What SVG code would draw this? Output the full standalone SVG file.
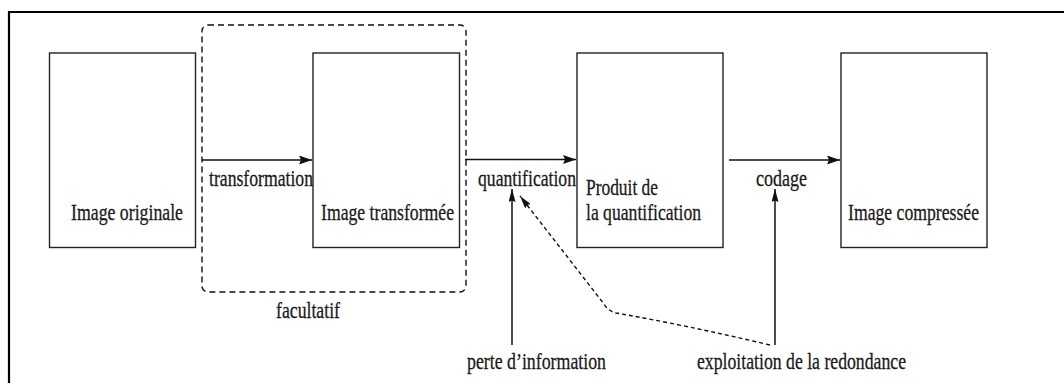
<svg xmlns="http://www.w3.org/2000/svg" width="1064" height="383" viewBox="0 0 1064 383">
  <style>
    .box { fill: #fff; stroke: #222; stroke-width: 1.4; }
    .lbl { font-family: 'Liberation Serif', 'DejaVu Serif', serif; font-size: 24px; fill: #1a1a1a; stroke: #1a1a1a; stroke-width: 0.3; }
    .edge { fill: none; stroke: #111; stroke-width: 1.5; }
    .dash { fill: none; stroke: #111; stroke-width: 1.4; stroke-dasharray: 4 3; }
    .group { fill: none; stroke: #111; stroke-width: 1.4; stroke-dasharray: 6 4; }
    .frame { fill: none; stroke: #000; stroke-width: 2.2; }
  </style>
  <defs>
    <marker id="head" viewBox="0 0 13 9" refX="13" refY="4.5" markerWidth="13" markerHeight="9" markerUnits="userSpaceOnUse" orient="auto">
      <path d="M0,0 L13,4.5 L0,9 L2,4.5 Z" fill="#111"/>
    </marker>
    <marker id="headS" viewBox="0 0 13 7" refX="13" refY="3.5" markerWidth="13" markerHeight="7" markerUnits="userSpaceOnUse" orient="auto">
      <path d="M0,0 L13,3.5 L0,7 L1.5,3.5 Z" fill="#111"/>
    </marker>
  </defs>

  <rect width="1064" height="383" fill="#fff"/>

  <!-- outer frame (top and left edges) -->
  <path class="frame" d="M9,383 L9,12 L1064,12"/>

  <!-- optional stage outline -->
  <g id="facultatif">
    <rect class="group" x="202" y="25" width="264" height="267" rx="6" ry="6"/>
    <text class="lbl" x="276" y="318" textLength="64" lengthAdjust="spacingAndGlyphs">facultatif</text>
  </g>

  <g id="image-originale">
    <rect class="box" x="49.5" y="53" width="146" height="194.5"/>
    <text class="lbl" x="71" y="220" textLength="112" lengthAdjust="spacingAndGlyphs">Image originale</text>
  </g>

  <g id="image-transformee">
    <rect class="box" x="313" y="53" width="146.5" height="194.5"/>
    <text class="lbl" x="321" y="220" textLength="133" lengthAdjust="spacingAndGlyphs">Image transformée</text>
  </g>

  <g id="produit-quantification">
    <rect class="box" x="577" y="53" width="146" height="194.5"/>
    <text class="lbl" x="586" y="195" textLength="72" lengthAdjust="spacingAndGlyphs">Produit de</text>
    <text class="lbl" x="586" y="220" textLength="115" lengthAdjust="spacingAndGlyphs">la quantification</text>
  </g>

  <g id="image-compressee">
    <rect class="box" x="841" y="53" width="146" height="194.5"/>
    <text class="lbl" x="848" y="220" textLength="131" lengthAdjust="spacingAndGlyphs">Image compressée</text>
  </g>

  <g id="perte-information">
    <text class="lbl" x="467" y="369" textLength="139" lengthAdjust="spacingAndGlyphs">perte d’information</text>
  </g>

  <g id="exploitation-redondance">
    <text class="lbl" x="697" y="369" textLength="209" lengthAdjust="spacingAndGlyphs">exploitation de la redondance</text>
  </g>

  <!-- connectors -->
  <g id="connectors">
    <path class="edge" d="M202,160 L312,160" marker-end="url(#head)"/>
    <text class="lbl" x="209" y="186" textLength="104" lengthAdjust="spacingAndGlyphs">transformation</text>

    <path class="edge" d="M465,159.5 L576,159.5" marker-end="url(#head)"/>
    <text class="lbl" x="478" y="186" textLength="98" lengthAdjust="spacingAndGlyphs">quantification</text>

    <path class="edge" d="M729,160 L840,160" marker-end="url(#head)"/>
    <text class="lbl" x="756" y="186" textLength="51" lengthAdjust="spacingAndGlyphs">codage</text>

    <path class="edge" d="M512,345 L512,189" marker-end="url(#headS)"/>
    <path class="edge" d="M775,345 L775,189" marker-end="url(#headS)"/>

    <path class="dash" d="M770,345 Q690,326 616,313 Q608,311 604,304 L520,196" marker-end="url(#headS)"/>
  </g>
</svg>
